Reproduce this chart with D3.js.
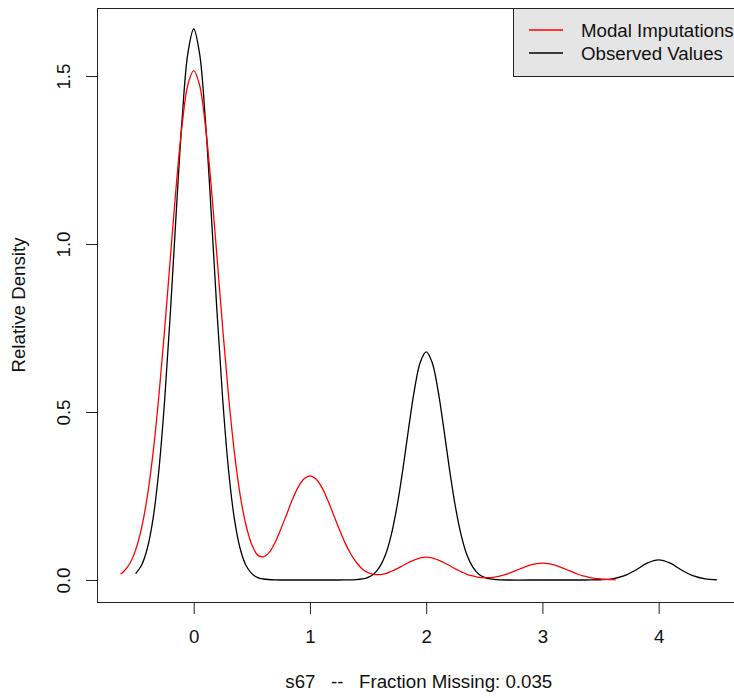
<!doctype html>
<html lang="en">
<head>
<meta charset="utf-8">
<title>s67 density</title>
<script src="https://d3js.org/d3.v7.min.js"></script>
<style>
    body { margin: 0; background: #fff; }
    svg { display: block; font-family: "Liberation Sans", Arial, sans-serif; }
    .axis-label, .tick-label { font-size: 18.7px; fill: #111; }
</style>
</head>
<body>
<svg width="734" height="698"></svg>
<script>
    // density estimates, [x, density]
    var observedDensity = [
        [-0.5,0.019],[-0.45,0.043],[-0.4,0.093],[-0.35,0.182],[-0.3,0.326],[-0.25,0.535],[-0.2,0.800],
        [-0.15,1.096],[-0.1,1.371],[-0.05,1.568],[0,1.640],[0.05,1.568],[0.1,1.371],[0.15,1.096],
        [0.2,0.800],[0.25,0.535],[0.3,0.326],[0.35,0.182],[0.4,0.093],[0.45,0.043],[0.5,0.019],
        [0.55,0.007],[0.6,0.003],[0.7,0.0002],[0.8,0],[1.0,0],[1.2,0],[1.3,0.0001],[1.4,0.001],
        [1.45,0.003],[1.5,0.008],[1.55,0.018],[1.6,0.039],[1.65,0.075],[1.7,0.135],[1.75,0.221],
        [1.8,0.331],[1.85,0.454],[1.9,0.568],[1.95,0.649],[2.0,0.679],[2.05,0.649],[2.1,0.568],
        [2.15,0.454],[2.2,0.331],[2.25,0.221],[2.3,0.135],[2.35,0.075],[2.4,0.039],[2.45,0.018],
        [2.5,0.008],[2.55,0.003],[2.6,0.001],[2.7,0],[3.0,0],[3.3,0],[3.4,0.0001],[3.5,0.0007],
        [3.6,0.0034],[3.7,0.012],[3.8,0.029],[3.9,0.050],[4.0,0.060],[4.1,0.050],[4.2,0.029],
        [4.3,0.012],[4.4,0.0034],[4.5,0.0007]
    ];

    var imputedDensity = [
        [-0.63,0.017],[-0.6,0.026],[-0.55,0.049],[-0.5,0.089],[-0.45,0.153],[-0.4,0.247],[-0.35,0.377],
        [-0.3,0.546],[-0.25,0.746],[-0.2,0.963],[-0.15,1.175],[-0.1,1.354],[-0.05,1.474],[0,1.516],
        [0.05,1.474],[0.1,1.354],[0.15,1.175],[0.2,0.963],[0.25,0.747],[0.3,0.547],[0.35,0.380],
        [0.4,0.252],[0.45,0.163],[0.5,0.105],[0.55,0.074],[0.6,0.069],[0.65,0.082],[0.7,0.112],
        [0.75,0.152],[0.8,0.196],[0.85,0.240],[0.9,0.277],[0.95,0.301],[1.0,0.310],[1.05,0.301],
        [1.1,0.277],[1.15,0.240],[1.2,0.197],[1.25,0.153],[1.3,0.112],[1.35,0.078],[1.4,0.052],
        [1.45,0.033],[1.5,0.022],[1.55,0.017],[1.6,0.016],[1.65,0.019],[1.7,0.026],[1.75,0.034],
        [1.8,0.043],[1.85,0.052],[1.9,0.060],[1.95,0.066],[2.0,0.068],[2.05,0.066],[2.1,0.060],
        [2.15,0.052],[2.2,0.043],[2.25,0.033],[2.3,0.025],[2.35,0.017],[2.4,0.012],[2.45,0.008],
        [2.5,0.007],[2.55,0.007],[2.6,0.009],[2.65,0.013],[2.7,0.018],[2.75,0.025],[2.8,0.032],
        [2.85,0.039],[2.9,0.045],[2.95,0.049],[3.0,0.050],[3.05,0.049],[3.1,0.045],[3.15,0.039],
        [3.2,0.032],[3.25,0.025],[3.3,0.018],[3.35,0.012],[3.4,0.008],[3.45,0.005],[3.5,0.003],
        [3.55,0.0016],[3.6,0.0008],[3.63,0.0005]
    ];

    var xTicks = [0, 1, 2, 3, 4];
    var yTicks = [0, 0.5, 1.0, 1.5];
    var legendLabels = ["Modal Imputations", "Observed Values"];
    var legendColors = ["#ff0000", "#000000"];
    var xTitle = "s67   --   Fraction Missing: 0.035";
    var yTitle = "Relative Density";

    var svg = d3.select("svg");

    // plot box (right side runs a little past the window, like the original)
    var boxLeft = 97, boxRight = 740.6, boxTop = 8, boxBottom = 602;

    var x = d3.scaleLinear().domain([-0.832, 4.705]).range([boxLeft, boxRight]);
    var y = d3.scaleLinear().domain([-0.0655, 1.7025]).range([boxBottom, boxTop]);

    svg.append("rect")
        .attr("width", 734).attr("height", 698)
        .attr("fill", "#fff");

    // axes
    var xAxis = svg.append("g")
        .attr("transform", "translate(0," + boxBottom + ")")
        .call(d3.axisBottom(x).tickValues(xTicks).tickSize(12).tickSizeOuter(0)
            .tickFormat(d3.format("d")));
    xAxis.select(".domain").remove();
    xAxis.selectAll("line").attr("stroke", "#222");
    xAxis.selectAll("text").attr("class", "tick-label")
        .attr("font-size", null).attr("font-family", null)
        .attr("dy", null).attr("y", 41);

    var yAxis = svg.append("g")
        .attr("transform", "translate(" + boxLeft + ",0)")
        .call(d3.axisLeft(y).tickValues(yTicks).tickSize(11).tickSizeOuter(0)
            .tickFormat(d3.format(".1f")));
    yAxis.select(".domain").remove();
    yAxis.selectAll("line").attr("stroke", "#222");
    yAxis.selectAll("text")
        .attr("class", "tick-label")
        .attr("font-size", null).attr("font-family", null)
        .attr("x", null).attr("dy", null)
        .attr("text-anchor", "middle")
        .attr("transform", "translate(-27,0) rotate(-90)");

    svg.append("rect")
        .attr("x", boxLeft + 0.5).attr("y", boxTop + 0.5)
        .attr("width", boxRight - boxLeft).attr("height", boxBottom - boxTop)
        .attr("fill", "none")
        .attr("stroke", "#222")
        .attr("stroke-width", 1);

    // curves
    var line = d3.line()
        .x(function (d) { return x(d[0]); })
        .y(function (d) { return y(d[1]); })
        .curve(d3.curveCatmullRom.alpha(0.5));

    svg.append("path")
        .datum(observedDensity)
        .attr("d", line)
        .attr("fill", "none")
        .attr("stroke", "#000")
        .attr("stroke-width", 1.3);

    svg.append("path")
        .datum(imputedDensity)
        .attr("d", line)
        .attr("fill", "none")
        .attr("stroke", "#ff0000")
        .attr("stroke-width", 1.3);

    // axis titles
    svg.append("text")
        .attr("class", "axis-label")
        .attr("x", (boxLeft + boxRight) / 2)
        .attr("y", 688)
        .attr("text-anchor", "middle")
        .style("white-space", "pre")
        .text(xTitle);

    svg.append("text")
        .attr("class", "axis-label")
        .attr("transform", "translate(25," + ((boxTop + boxBottom) / 2) + ") rotate(-90)")
        .attr("text-anchor", "middle")
        .text(yTitle);

    // legend, top right
    var legend = svg.append("g");
    legend.append("rect")
        .attr("x", 513.5).attr("y", boxTop + 0.5)
        .attr("width", boxRight - 513).attr("height", 68)
        .attr("fill", "#e5e5e5")
        .attr("stroke", "#222");

    var items = legend.selectAll(".item")
        .data(legendLabels)
        .enter().append("g")
        .attr("class", "item")
        .attr("transform", function (d, i) { return "translate(0," + (30 + i * 23) + ")"; });

    items.append("line")
        .attr("x1", 529).attr("x2", 563)
        .attr("stroke", function (d, i) { return legendColors[i]; })
        .attr("stroke-width", 1.3);

    items.append("text")
        .attr("class", "axis-label")
        .attr("x", 581)
        .attr("y", 6.5)
        .text(function (d) { return d; });
</script>
</body>
</html>
